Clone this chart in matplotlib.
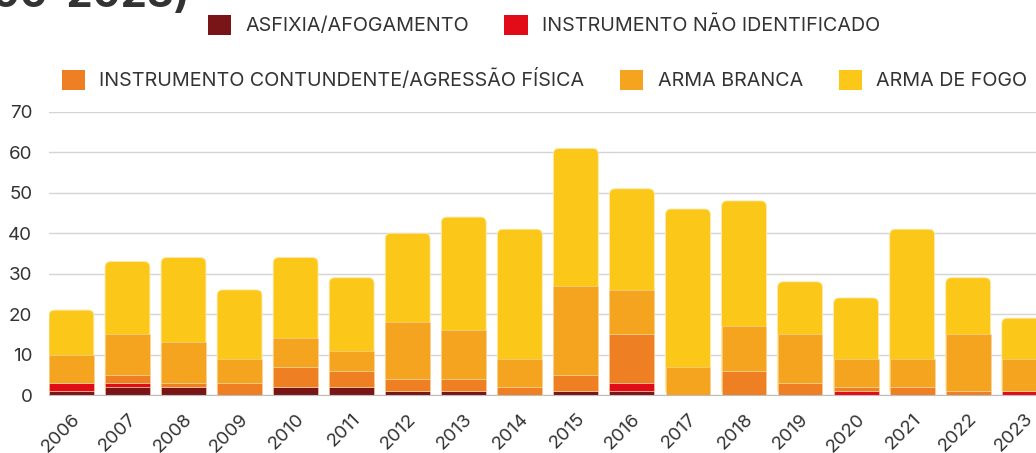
import matplotlib
matplotlib.use('Agg')
import matplotlib.pyplot as plt
from matplotlib.patches import FancyBboxPatch, Patch
import numpy as np

# Data
years = ['2006', '2007', '2008', '2009', '2010', '2011', '2012', '2013', '2014',
         '2015', '2016', '2017', '2018', '2019', '2020', '2021', '2022', '2023']
asfixia = [1, 2, 2, 0, 2, 2, 1, 1, 0, 1, 1, 0, 0, 0, 0, 0, 0, 0]
nao_identificado = [2, 1, 0, 0, 0, 0, 0, 0, 0, 0, 2, 0, 0, 0, 1, 0, 0, 1]
contundente = [0, 2, 1, 3, 5, 4, 3, 3, 2, 4, 12, 0, 6, 3, 1, 2, 1, 0]
arma_branca = [7, 10, 10, 6, 7, 5, 14, 12, 7, 22, 11, 7, 11, 12, 7, 7, 14, 8]
arma_fogo = [11, 18, 21, 17, 20, 18, 22, 28, 32, 34, 25, 39, 31, 13, 15, 32, 14, 10]

labels = ['ASFIXIA/AFOGAMENTO', 'INSTRUMENTO NÃO IDENTIFICADO',
          'INSTRUMENTO CONTUNDENTE/AGRESSÃO FÍSICA', 'ARMA BRANCA', 'ARMA DE FOGO']
colors = ['#7a1517', '#e20b18', '#ee7f22', '#f4a41e', '#fbc718']

plt.rcParams['font.family'] = ['Inter', 'DejaVu Sans']
text_color = '#333333'

W, H = 1036, 453
fig = plt.figure(figsize=(W / 100, H / 100), dpi=100)
ax = fig.add_axes([49 / W, 58 / H, 1 - 49 / W, (395 - 112) / H])

x = np.arange(len(years))
width = 0.8
xmin, xmax = -0.4, 17.21
ymin, ymax = 0, 70
ax.set_xlim(xmin, xmax)
ax.set_ylim(ymin, ymax)

# Top segment (arma de fogo) with rounded top corners, drawn from 0 so the
# lower segments hide its rounded bottom
totals = np.sum([asfixia, nao_identificado, contundente, arma_branca, arma_fogo], axis=0)
ax_w = W - 49
ax_h = 395 - 112
aspect = ((ymax - ymin) / ax_h) / ((xmax - xmin) / ax_w)
for xi, tot in zip(x, totals):
    p = FancyBboxPatch((xi - width / 2, 0), width, tot,
                       boxstyle='round,pad=0,rounding_size=0.1',
                       mutation_aspect=aspect, facecolor=colors[4],
                       edgecolor='#fde9a8', linewidth=0.6, zorder=2)
    ax.add_patch(p)

# Lower stacked segments
bottom = np.zeros(len(years))
for vals, c in zip([asfixia, nao_identificado, contundente, arma_branca], colors[:4]):
    ax.bar(x, vals, width, bottom=bottom, color=c, edgecolor='#f7d9b0',
           linewidth=0.4, zorder=3)
    bottom += np.array(vals)

# Axes styling
ax.set_yticks(range(0, 71, 10))
ax.set_xticks(x)
ax.set_xticklabels(years, rotation=45, ha='right', va='top', rotation_mode='anchor')
ax.tick_params(axis='both', length=0, labelsize=13.5, colors=text_color)
ax.tick_params(axis='y', pad=12)
ax.tick_params(axis='x', pad=11)
ax.yaxis.grid(True, color='#d4d4d4', linewidth=1)
ax.set_axisbelow(True)
for s in ['top', 'right', 'left']:
    ax.spines[s].set_visible(False)
ax.spines['bottom'].set_color('#bdbdbd')
ax.spines['bottom'].set_zorder(4)

# Legend in two rows
handles = [Patch(facecolor=c, edgecolor='none') for c in colors]
leg_kw = dict(frameon=False, fontsize=14.2, handlelength=1.17, handleheight=1.17,
              handletextpad=0.75, columnspacing=1.8, labelcolor=text_color,
              borderpad=0, borderaxespad=0)
fig.legend(handles[:2], labels[:2], ncol=2, loc='center',
           bbox_to_anchor=(544 / W, 1 - 25 / H), **leg_kw)
fig.legend(handles[2:], labels[2:], ncol=3, loc='center',
           bbox_to_anchor=(544.5 / W, 1 - 80 / H), **leg_kw)

# Title (cut off at the top of the crop)
fig.text(190 / W, 1 - 7 / H, '(2006-2023)', ha='right', va='baseline',
         fontsize=30, fontweight='bold', color=text_color)

fig.savefig('out.png', dpi=100)
